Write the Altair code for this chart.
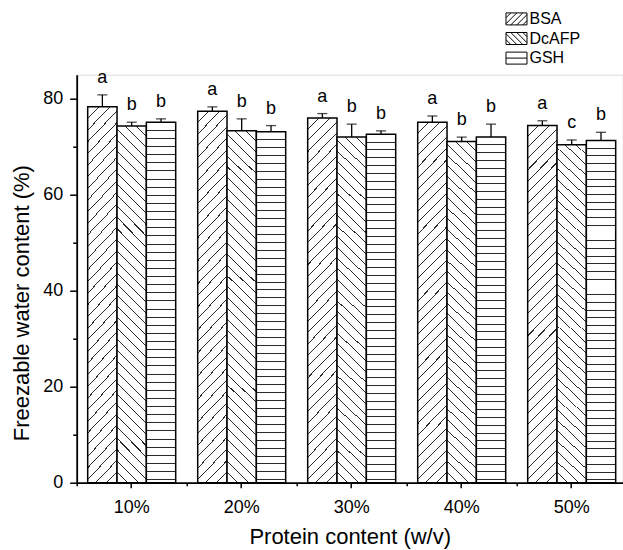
import altair as alt
import pandas as pd

# ---------------- data ----------------
groups = ["10%", "20%", "30%", "40%", "50%"]
series = ["BSA", "DcAFP", "GSH"]

bsa_mean = [78.3, 77.4, 76.0, 75.1, 74.4]
bsa_sd = [2.5, 0.9, 0.9, 1.3, 1.0]
bsa_letters = ["a", "a", "a", "a", "a"]

dc_mean = [74.3, 73.3, 72.0, 71.1, 70.4]
dc_sd = [0.8, 2.5, 2.7, 0.9, 1.0]
dc_letters = ["b", "b", "b", "b", "c"]

gsh_mean = [75.1, 73.1, 72.6, 72.0, 71.3]
gsh_sd = [0.7, 1.3, 0.7, 2.7, 1.7]
gsh_letters = ["b", "b", "b", "b", "b"]

y_major = [0, 20, 40, 60, 80]
y_minor = [10, 30, 50, 70]

x_title = "Protein content (w/v)"
y_title = "Freezable water content (%)"

rows = []
for s, means, sds, lets in [
    ("BSA", bsa_mean, bsa_sd, bsa_letters),
    ("DcAFP", dc_mean, dc_sd, dc_letters),
    ("GSH", gsh_mean, gsh_sd, gsh_letters),
]:
    for g, m, sd, l in zip(groups, means, sds, lets):
        rows.append(dict(group=g, series=s, mean=m, sd=sd, top=m + sd, letter=l))
df = pd.DataFrame(rows)

# ---------------- layout constants ----------------
PLOT_W, PLOT_H = 546, 408
PAD = {"left": 76.7, "top": 74.7, "right": 0, "bottom": 67.3}
FONT = "Liberation Sans"

# ---------------- hatch fills (linear gradients with sharp stops) ----------------
def stripe_stops(period, half, color="#2a2a2a"):
    stops = [{"offset": 0, "color": "white"}]
    c = period
    while c + half < 1:
        a, b = round(c - half, 5), round(c + half, 5)
        stops += [
            {"offset": a, "color": "white"},
            {"offset": a, "color": color},
            {"offset": b, "color": color},
            {"offset": b, "color": "white"},
        ]
        c += period
    stops.append({"offset": 1, "color": "white"})
    return stops

bw = 88 / 3.0          # bar width in px
h0 = 355.0             # typical bar height in px
L = bw + h0
S = bw * bw + h0 * h0
ga = bw * L / S
gb = h0 * L / S
diag_stops = stripe_stops(11.0 / L, 0.52 / L)
fill_bsa = {"gradient": "linear", "x1": 0, "y1": 0, "x2": round(ga, 5), "y2": round(gb, 5),
            "stops": diag_stops}
fill_dc = {"gradient": "linear", "x1": 0, "y1": 1, "x2": round(ga, 5), "y2": round(1 - gb, 5),
           "stops": diag_stops}
fill_gsh = {"gradient": "linear", "x1": 0, "y1": 0, "x2": 0, "y2": 1,
            "stops": stripe_stops(8.0 / h0, 0.5 / 350.0)}

# ---------------- legend symbol paths ----------------
R = 10.5
HH = 6.0 / R
def fmt(v):
    return f"{v:.3f}"

def box():
    return f"M-1,{fmt(-HH)}H1V{fmt(HH)}H-1Z"

def diag_path(sign):
    p = box()
    step = 6.0 / R
    c = -1 - HH + step * 0.8
    while c < 1 + HH:
        x0 = max(-1, c - HH)
        x1 = min(1, c + HH)
        if x1 - x0 > 0.02:
            if sign > 0:   # "/" : x + y = c
                p += f"M{fmt(x0)},{fmt(c - x0)}L{fmt(x1)},{fmt(c - x1)}"
            else:          # "\" : x - y = c
                p += f"M{fmt(x0)},{fmt(x0 - c)}L{fmt(x1)},{fmt(x1 - c)}"
        c += step
    return p

shape_paths = [diag_path(1), diag_path(-1), box() + "M-1,0H1"]

# ---------------- encodings ----------------
x_scale = alt.Scale(domain=groups, paddingInner=0.2, paddingOuter=0.081818, align=0.6111)
xo_scale = alt.Scale(domain=series, paddingInner=0, paddingOuter=0)
y_scale = alt.Scale(domain=[0, 85], nice=False, zero=True)

axis_common = dict(orient="bottom", grid=False, domainColor="black", tickColor="black",
                   labelColor="black", titleColor="black", labelFont=FONT, titleFont=FONT)

x_main_axis = alt.Axis(title=x_title, labelAngle=0, labelFontSize=18, titleFontSize=22,
                       tickSize=5, tickWidth=1.5, domainWidth=1.8, labelPadding=11,
                       titlePadding=10, titleFontWeight="normal", **axis_common)
x_minor_axis = alt.Axis(title=None, labels=False, domain=False, tickSize=3, tickWidth=1.5,
                        tickOffset=-55, **axis_common)

yaxis_common = dict(orient="left", grid=False, domainColor="black", tickColor="black",
                    labelColor="black", titleColor="black", labelFont=FONT, titleFont=FONT)
y_main_axis = alt.Axis(title=y_title, values=y_major, labelFontSize=18, titleFontSize=22,
                       tickSize=7, tickWidth=1.5, domainWidth=1.8, labelPadding=7,
                       titlePadding=9, titleY=228, titleFontWeight="normal", **yaxis_common)
y_minor_axis = alt.Axis(title=None, values=y_minor, labels=False, domain=False, tickSize=4,
                        tickWidth=1.5, **yaxis_common)

base = alt.Chart(df)

def bars(name, fill, xaxis, yaxis):
    return base.transform_filter(alt.datum.series == name).mark_bar(
        fill=fill, stroke="black", strokeWidth=1.5
    ).encode(
        x=alt.X("group:N", scale=x_scale, axis=xaxis, sort=groups),
        xOffset=alt.XOffset("series:N", scale=xo_scale, sort=series),
        y=alt.Y("mean:Q", scale=y_scale, axis=yaxis),
    )

bar_bsa = bars("BSA", fill_bsa, x_main_axis, y_main_axis)
bar_dc = bars("DcAFP", fill_dc, x_minor_axis, y_minor_axis)
bar_gsh = bars("GSH", fill_gsh, None, None)

enc = dict(
    x=alt.X("group:N", scale=x_scale, axis=None, sort=groups),
    xOffset=alt.XOffset("series:N", scale=xo_scale, sort=series),
)

err_rule = base.mark_rule(color="black", strokeWidth=1.3).encode(
    y=alt.Y("mean:Q", scale=y_scale, axis=None), y2="top:Q", **enc)
err_cap = base.mark_tick(color="black", orient="horizontal", size=10, thickness=1.3).encode(
    y=alt.Y("top:Q", scale=y_scale, axis=None), **enc)
letters = base.mark_text(dy=-12, baseline="alphabetic", fontSize=18, font=FONT,
                         color="black").encode(
    y=alt.Y("top:Q", scale=y_scale, axis=None), text="letter:N", **enc)

legend_pts = base.mark_point(opacity=0).encode(
    y=alt.Y("mean:Q", scale=y_scale, axis=None),
    shape=alt.Shape("series:N", scale=alt.Scale(domain=series, range=shape_paths),
                    legend=alt.Legend(title=None, orient="none", legendX=428.8, legendY=-66.8,
                                      symbolSize=441, symbolFillColor="white",
                                      symbolStrokeColor="black", symbolStrokeWidth=1,
                                      symbolOpacity=1, labelFontSize=16, labelFont=FONT,
                                      labelColor="black", labelOffset=2, rowPadding=0.6,
                                      padding=0)),
    **enc)

chart = alt.layer(
    bar_bsa, bar_dc, bar_gsh, err_rule, err_cap, letters, legend_pts
).resolve_axis(
    x="independent", y="independent"
).properties(
    width=PLOT_W, height=PLOT_H,
    autosize=alt.AutoSizeParams(type="none"),
    padding=PAD,
).configure_view(stroke=None).configure(background="white")

chart.save("out.html", embed_options={"renderer": "svg", "actions": False})
